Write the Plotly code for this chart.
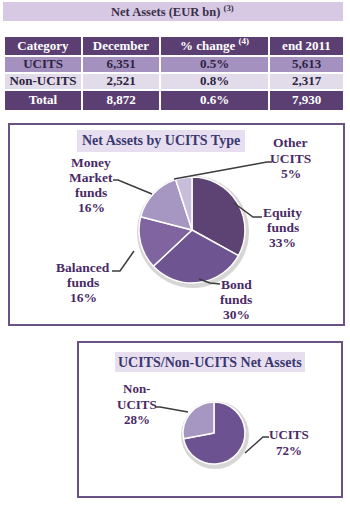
import plotly.graph_objects as go

# ---------------- data ----------------
table_title = "Net Assets (EUR bn)"
table_title_note = "(3)"
col_headers = ["Category", "December", "% change", "end 2011"]
pct_note = "(4)"
categories = ["UCITS", "Non-UCITS", "Total"]
december = [6351, 2521, 8872]
pct_change = [0.5, 0.8, 0.6]
end_2011 = [5613, 2317, 7930]

pie1_title = "Net Assets by UCITS Type"
ucits_types = ["Equity funds", "Bond funds", "Balanced funds", "Money Market funds", "Other UCITS"]
ucits_shares = [33, 30, 16, 16, 5]

pie2_title = "UCITS/Non-UCITS Net Assets"
split_labels = ["UCITS", "Non-UCITS"]
split_shares = [72, 28]

# ---------------- styling ----------------
W, H = 350, 506
FONT = "Liberation Serif"
DARK = "#5b3f72"
MID = "#a591c0"
LIGHT = "#e2dbea"
TXT = "#2d2340"
LBL = "#4a2a66"
TITLE_TXT = "#3b3870"
BOX = "#6a5285"
LEADER = "#3c3c3c"


def px(x):
    return x / W


def py(y):
    return 1 - y / H


def rect(x0, y0, x1, y1, **kw):
    return dict(type="rect", xref="paper", yref="paper",
                x0=px(x0), x1=px(x1), y0=py(y1), y1=py(y0), **kw)


def circle(cx, cy, r, **kw):
    return dict(type="circle", xref="paper", yref="paper",
                x0=px(cx - r), x1=px(cx + r), y0=py(cy + r), y1=py(cy - r), **kw)


def polyline(pts):
    d = "M " + " L ".join(f"{px(x)},{py(y)}" for x, y in pts)
    return dict(type="path", xref="paper", yref="paper", path=d,
                line=dict(color=LEADER, width=1.5))


fig = go.Figure()

# ---------------- table (heatmap cells + text) ----------------
col_edges = [0, 78, 156, 265, 340]
row_edges = [0, 20, 37, 54, 75]
row_codes = [0, 1, 2, 0]  # 0 dark, 1 mid, 2 light
z = [[c] * 4 for c in row_codes]
fig.add_trace(go.Heatmap(
    x=col_edges, y=row_edges, z=z, zmin=0, zmax=2,
    colorscale=[[0, DARK], [0.5, MID], [1, LIGHT]],
    showscale=False, xgap=2, ygap=2, hoverinfo="skip",
))

hdr = list(col_headers)
hdr[2] = f"{col_headers[2]} <sup>{pct_note}</sup>"
body = [
    categories,
    [f"{v:,}" for v in december],
    [f"{v:.1f}%" for v in pct_change],
    [f"{v:,}" for v in end_2011],
]
rows_text = [hdr] + [[body[c][r] for c in range(4)] for r in range(3)]
row_colors = ["white", TXT, TXT, "white"]
xc = [(col_edges[i] + col_edges[i + 1]) / 2 for i in range(4)]
yc = [(row_edges[i] + row_edges[i + 1]) / 2 + 0.5 for i in range(4)]
tx, ty, tt, tc = [], [], [], []
for r in range(4):
    for c in range(4):
        tx.append(xc[c])
        ty.append(yc[r])
        tt.append(f"<b>{rows_text[r][c]}</b>")
        tc.append(row_colors[r])
fig.add_trace(go.Scatter(
    x=tx, y=ty, text=tt, mode="text", hoverinfo="skip", showlegend=False,
    textposition="middle center",
    textfont=dict(family=FONT, size=13, color=tc),
))

# ---------------- pies ----------------
pie1_colors = ["#5d4374", "#6e5490", "#8064a0", "#a597c1", "#c8bedc"]
c1x, c1y, r1 = 192, 230, 53
fig.add_trace(go.Pie(
    labels=ucits_types, values=ucits_shares, sort=False, direction="clockwise",
    textinfo="none", hoverinfo="label+percent", showlegend=False,
    marker=dict(colors=pie1_colors, line=dict(color="white", width=1.5)),
    domain=dict(x=[px(c1x - r1), px(c1x + r1)], y=[py(c1y + r1), py(c1y - r1)]),
))

pie2_colors = ["#6c5290", "#a597c1"]
c2x, c2y, r2 = 214, 433, 31
fig.add_trace(go.Pie(
    labels=split_labels, values=split_shares, sort=False, direction="clockwise",
    textinfo="none", hoverinfo="label+percent", showlegend=False,
    marker=dict(colors=pie2_colors, line=dict(color="white", width=1.5)),
    domain=dict(x=[px(c2x - r2), px(c2x + r2)], y=[py(c2y + r2), py(c2y - r2)]),
))

# ---------------- shapes ----------------
shapes = [
    rect(3, 2, 343, 21, fillcolor="#d7c9e3", line=dict(width=0), layer="below"),
    rect(9, 124, 344, 325, fillcolor="rgba(0,0,0,0)", line=dict(color=BOX, width=2)),
    rect(77, 130, 245, 152, fillcolor="#e7dff0", line=dict(width=0), layer="below"),
    rect(78, 342, 342, 497, fillcolor="rgba(0,0,0,0)", line=dict(color=BOX, width=2)),
    rect(115, 352, 305, 372, fillcolor="#e7dff0", line=dict(width=0), layer="below"),
    circle(c1x + 1, c1y + 2, r1 + 3, fillcolor="#d6d6d6", line=dict(width=0), layer="below"),
    circle(c2x + 1, c2y + 2, r2 + 3, fillcolor="#d6d6d6", line=dict(width=0), layer="below"),
    # leader lines
    polyline([(174, 179), (267, 162), (272, 162)]),
    polyline([(113, 180), (118, 180), (152, 194)]),
    polyline([(234, 203), (253, 217), (262, 217)]),
    polyline([(199, 279), (210, 283), (220, 284)]),
    polyline([(112, 271), (120, 271), (134, 251)]),
    polyline([(155, 407), (160, 407), (188, 412)]),
    polyline([(245, 453), (263, 437), (269, 437)]),
]

# ---------------- annotations ----------------
def ann(text, x, y, size, color):
    return dict(text=text, x=px(x), y=py(y), xref="paper", yref="paper",
                showarrow=False, xanchor="center", yanchor="middle",
                font=dict(family=FONT, size=size, color=color, weight="bold"))


def label_block(lines, cx, cy, size, spacing):
    n = len(lines)
    out = []
    for i, line in enumerate(lines):
        y = cy + (i - (n - 1) / 2) * spacing
        out.append(ann(line, cx, y, size, LBL))
    return out


annotations = [
    ann(f"{table_title} <sup>{table_title_note}</sup>", 172, 11.5, 12.5, "#3a3048"),
    ann(pie1_title, 161, 141, 14, TITLE_TXT),
    ann(pie2_title, 210, 362, 14, TITLE_TXT),
]
pie1_pos = [(282.5, 227.5), (236, 299), (83, 282), (91, 185), (290.5, 158)]
for name, share, (x, y) in zip(ucits_types, ucits_shares, pie1_pos):
    annotations += label_block(name.split(" ") + [f"{share}%"], x, y, 13.5, 15)
pie2_pos = [(288.5, 442.5), (136.5, 404)]
pie2_lines = [["UCITS"], ["Non-", "UCITS"]]
for lines, share, (x, y) in zip(pie2_lines, split_shares, pie2_pos):
    annotations += label_block(lines + [f"{share}%"], x, y, 13, 15.5)

fig.update_layout(
    width=W, height=H, margin=dict(l=0, r=0, t=0, b=0),
    paper_bgcolor="white", plot_bgcolor="rgba(0,0,0,0)",
    xaxis=dict(domain=[px(4), px(344)], range=[0, 340], visible=False, fixedrange=True),
    yaxis=dict(domain=[py(111), py(36)], range=[75, 0], visible=False, fixedrange=True),
    shapes=shapes, annotations=annotations, showlegend=False,
)

fig.write_html("out.html", config={"displayModeBar": False})
